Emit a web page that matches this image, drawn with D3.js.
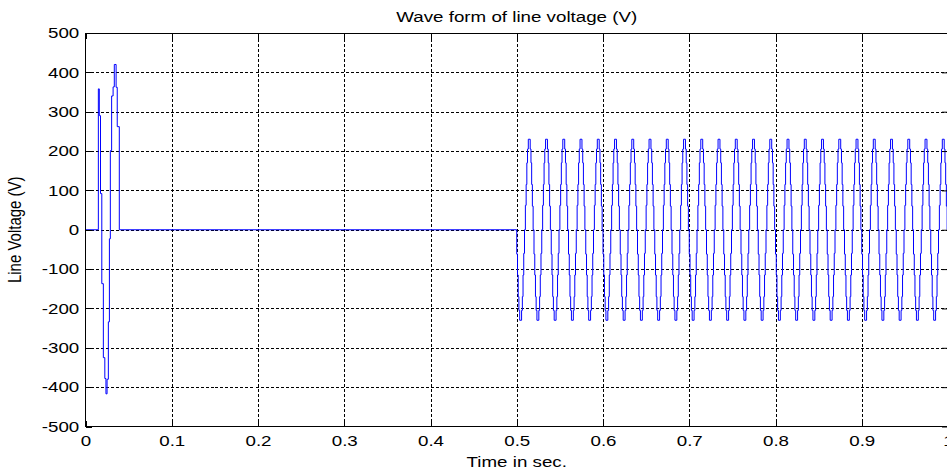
<!DOCTYPE html>
<html>
<head>
<meta charset="utf-8">
<script src="https://cdn.jsdelivr.net/npm/d3@7"></script>
<style>
  body { margin: 0; background: #fff; }
  svg text { font-family: "Liberation Sans", Arial, Helvetica, sans-serif; fill: #000; }
</style>
</head>
<body>
<svg id="chart" width="947" height="472"></svg>
<script>
const xTicks = [0, 0.1, 0.2, 0.3, 0.4, 0.5, 0.6, 0.7, 0.8, 0.9, 1];
const yTicks = [-500, -400, -300, -200, -100, 0, 100, 200, 300, 400, 500];

// start-up transient (time s, volts), stepped
const startTime = [0.0149, 0.0160, 0.0174, 0.0189, 0.0207, 0.0224, 0.0237, 0.0250, 0.0265, 0.0277, 0.0288, 0.0303, 0.0320, 0.0334, 0.0355, 0.0368, 0.0392];
const startVolt = [358, 290, 92, -137, -325, -378, -417, -380, -234, -23, 201, 340, 363, 420, 362, 262, 0];

// one 20 ms cycle of the inverter staircase after the switch-on at 0.5 s
const cycleMs   = [0, 0.9, 1.7, 2.5, 3.4, 5.6, 6.5, 7.3, 8.1, 9.0, 10.0, 10.9, 11.7, 12.5, 13.4, 15.6, 16.5, 17.3, 18.1, 19.0];
const cycleVolt = [-62, -115, -170, -205, -230, -205, -170, -115, -60, 0, 62, 115, 170, 205, 230, 205, 170, 115, 60, 0];
const cycleStart = [0.50, 0.52, 0.54, 0.56, 0.58, 0.60, 0.62, 0.64, 0.66, 0.68, 0.70, 0.72, 0.74, 0.76, 0.78,
                    0.80, 0.82, 0.84, 0.86, 0.88, 0.90, 0.92, 0.94, 0.96, 0.98];

const svg = d3.select('#chart');
const x = d3.scaleLinear().domain([0, 1]).range([85.5, 948]);
const y = d3.scaleLinear().domain([-500, 500]).range([426.5, 33]);
const plotH = y(-500) - y(500);
const sx = 1.25; // the picture's text is stretched sideways
const fmt = d => String(d); // plain hyphen for negatives, like matlab

// dotted grid
svg.append('g')
    .attr('transform', 'translate(0,' + y(-500) + ')')
    .call(d3.axisBottom(x).tickValues(xTicks.slice(1, -1)).tickSize(-plotH).tickFormat(''))
    .call(g => g.select('.domain').remove())
    .selectAll('line').attr('stroke', '#000').attr('stroke-dasharray', '3,2').attr('shape-rendering', 'crispEdges');
svg.append('g')
    .attr('transform', 'translate(' + x(0) + ',0)')
    .call(d3.axisLeft(y).tickValues(yTicks.slice(1, -1)).tickSize(-(x(1) - x(0))).tickFormat(''))
    .call(g => g.select('.domain').remove())
    .selectAll('line').attr('stroke', '#000').attr('stroke-dasharray', '3,2').attr('shape-rendering', 'crispEdges');

// the voltage trace
let pts = [[0, 0]];
startTime.forEach((t, i) => pts.push([t, startVolt[i]]));
cycleStart.forEach(c => cycleMs.forEach((m, i) => pts.push([c + m / 1000, cycleVolt[i]])));
pts.push([1, cycleVolt[cycleVolt.length - 1]]);

svg.append('clipPath').attr('id', 'clip')
    .append('rect').attr('x', x(0)).attr('y', y(500)).attr('width', x(1) - x(0)).attr('height', plotH);

svg.append('path')
    .datum(pts)
    .attr('clip-path', 'url(#clip)')
    .attr('fill', 'none')
    .attr('stroke', '#0000ff')
    .attr('stroke-width', 1)
    .attr('d', d3.line().x(d => x(d[0])).y(d => y(d[1])).curve(d3.curveStepAfter));

// axes box and ticks
svg.append('rect')
    .attr('x', x(0)).attr('y', y(500)).attr('width', x(1) - x(0)).attr('height', plotH)
    .attr('fill', 'none').attr('stroke', '#000').attr('shape-rendering', 'crispEdges');

let xAxis = svg.append('g')
    .attr('transform', 'translate(0,' + y(-500) + ')')
    .call(d3.axisBottom(x).tickValues(xTicks).tickSize(-6).tickFormat(fmt));
xAxis.select('.domain').remove();
xAxis.selectAll('line').attr('shape-rendering', 'crispEdges');
xAxis.selectAll('text').attr('y', 8.5).attr('font-size', 15).attr('transform', 'scale(' + sx + ',1)');

let topAxis = svg.append('g')
    .attr('transform', 'translate(0,' + y(500) + ')')
    .call(d3.axisTop(x).tickValues(xTicks).tickSize(-6).tickFormat(''));
topAxis.select('.domain').remove();
topAxis.selectAll('line').attr('shape-rendering', 'crispEdges');

let yAxis = svg.append('g')
    .attr('transform', 'translate(' + x(0) + ',0)')
    .call(d3.axisLeft(y).tickValues(yTicks).tickSize(-6).tickFormat(fmt));
yAxis.select('.domain').remove();
yAxis.selectAll('line').attr('shape-rendering', 'crispEdges');
yAxis.selectAll('text').attr('x', -5).attr('font-size', 15).attr('transform', 'scale(' + sx + ',1)');

let rightAxis = svg.append('g')
    .attr('transform', 'translate(' + x(1) + ',0)')
    .call(d3.axisRight(y).tickValues(yTicks).tickSize(-6).tickFormat(''));
rightAxis.select('.domain').remove();

svg.selectAll('.tick text').attr('font-family', '"Liberation Sans", Arial, sans-serif');

// labels
const midX = (x(0) + x(1)) / 2;
svg.append('text')
    .attr('transform', 'translate(' + midX + ',22) scale(' + sx + ',1)')
    .attr('text-anchor', 'middle').attr('font-size', 15)
    .text('Wave form of line voltage (V)');
svg.append('text')
    .attr('transform', 'translate(' + midX + ',467) scale(' + sx + ',1)')
    .attr('text-anchor', 'middle').attr('font-size', 15)
    .text('Time in sec.');
svg.append('text')
    .attr('transform', 'translate(21,' + y(0) + ') scale(' + sx + ',1) rotate(-90)')
    .attr('text-anchor', 'middle').attr('font-size', 15)
    .text('Line Voltage (V)');
</script>
</body>
</html>
